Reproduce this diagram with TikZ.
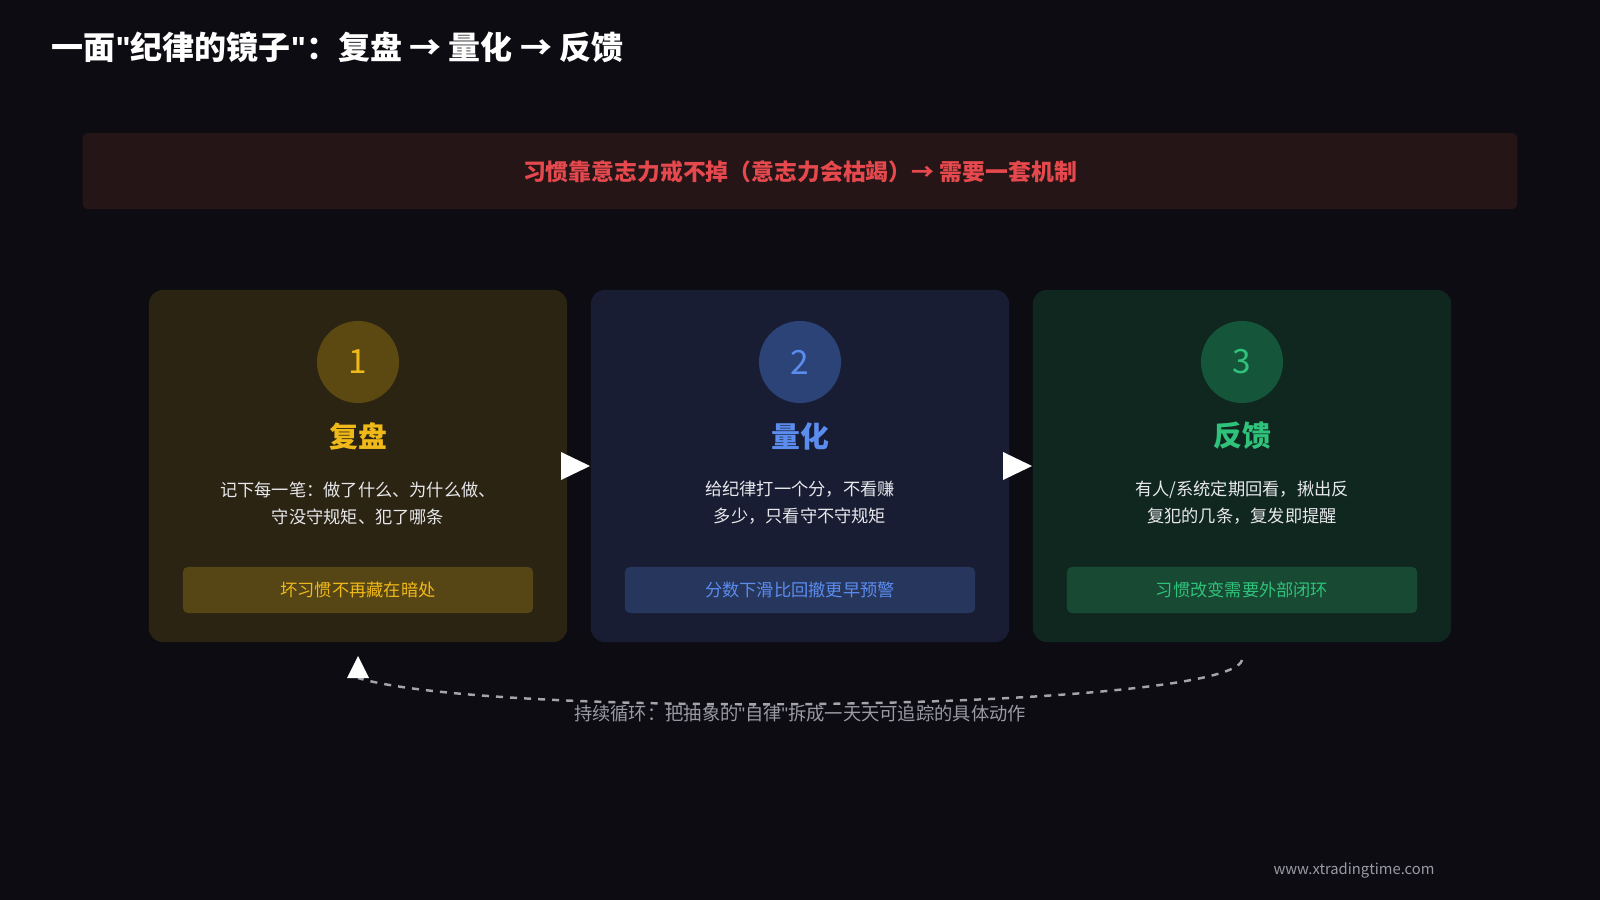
\documentclass[tikz,border=0pt]{standalone}
\usepackage{fontspec}
\setmainfont{Noto Sans CJK SC}
\newfontfamily\qf{Liberation Sans}
\newcommand\q{{\qf"}}
\usetikzlibrary{arrows.meta}
\definecolor{bg}{HTML}{0C0C12}
\definecolor{ban}{HTML}{261517}
\definecolor{red}{HTML}{E5484D}
\definecolor{fa}{HTML}{2B2413}\definecolor{ca}{HTML}{5C4912}\definecolor{ta}{HTML}{F0B91A}
\definecolor{fb}{HTML}{181D33}\definecolor{cb}{HTML}{2C4378}\definecolor{tb}{HTML}{5B8DEF}
\definecolor{fc}{HTML}{10271F}\definecolor{cc}{HTML}{15553A}\definecolor{tc}{HTML}{2FC27A}
\definecolor{txt}{HTML}{E8E8EC}\definecolor{grey}{HTML}{9A9AA2}
\tikzset{
 card/.style={rounded corners=0.14cm,minimum width=4.18cm, minimum height=3.52cm,inner sep=0},
 circ/.style={circle,minimum size=0.82cm,inner sep=0,font=\fontsize{9.5}{10}\selectfont},
 ttl/.style={font=\fontsize{8.2}{9}\selectfont\bfseries},
 desc/.style={text=txt,align=center,font=\fontsize{4.9}{7.7}\selectfont},
 tag/.style={rounded corners=0.05cm,minimum width=3.5cm,minimum height=0.46cm,inner sep=0,font=\fontsize{4.9}{6}\selectfont},
 tri/.style={fill=white,draw=none}
}
\newcommand\mycard[9]{%
 \node[card,fill=#3] (card#1) at (#2,466) {};
 \node[circ,fill=#4,text=#5] (circ#1) at (#2,362) {#6};
 \node[ttl,text=#5] (head#1) at (#2,436) {#7};
 \node[desc] (desc#1) at (#2,503) {#8};
 \node[tag,fill=#5!22!#3,text=#5] (tag#1) at (#2,590) {#9};
}
\begin{document}
\begin{tikzpicture}[x=0.01cm,y=-0.01cm]
\fill[bg] (0,0) rectangle (1600,900);
\useasboundingbox (0,0) rectangle (1600,900);
\node[anchor=west,inner sep=0,text=white,font=\fontsize{9.1}{10}\selectfont\bfseries] (title) at (51,47) {一面\q 纪律的镜子\q ：复盘 → 量化 → 反馈};
\node[fill=ban,rounded corners=0.06cm,minimum width=14.34cm,minimum height=0.76cm,inner sep=0] (banner) at (800,171) {};
\node[text=red,font=\fontsize{6.5}{7}\selectfont\bfseries] (bantext) at (800,172) {习惯靠意志力戒不掉（意志力会枯竭）→ 需要一套机制};
\mycard{a}{358}{fa}{ca}{ta}{1}{复盘}{记下每一笔：做了什么、为什么做、\\守没守规矩、犯了哪条}{坏习惯不再藏在暗处}
\mycard{b}{800}{fb}{cb}{tb}{2}{量化}{给纪律打一个分，不看赚\\多少，只看守不守规矩}{分数下滑比回撤更早预警}
\mycard{c}{1242}{fc}{cc}{tc}{3}{反馈}{有人/系统定期回看，揪出反\\复犯的几条，复发即提醒}{习惯改变需要外部闭环}
\fill[tri] (561,452) -- (590,466) -- (561,480) -- cycle;
\fill[tri] (1003,452) -- (1032,466) -- (1003,480) -- cycle;
\coordinate (ls) at (1242,660);
\coordinate (le) at (358,678);
\draw[grey!90,line width=0.7pt,dash pattern=on 2pt off 2pt] (ls) .. controls (1230,710) and (500,720) .. (le);
\fill[white] (347,678) -- (358,656) -- (369,678) -- cycle;
\node[text=grey,font=\fontsize{5.2}{6}\selectfont] (loop) at (800,714) {持续循环：把抽象的\q 自律\q 拆成一天天可追踪的具体动作};
\node[text=grey,font=\fontsize{4.2}{5}\selectfont] (foot) at (1354,870) {www.xtradingtime.com};
\end{tikzpicture}
\end{document}
